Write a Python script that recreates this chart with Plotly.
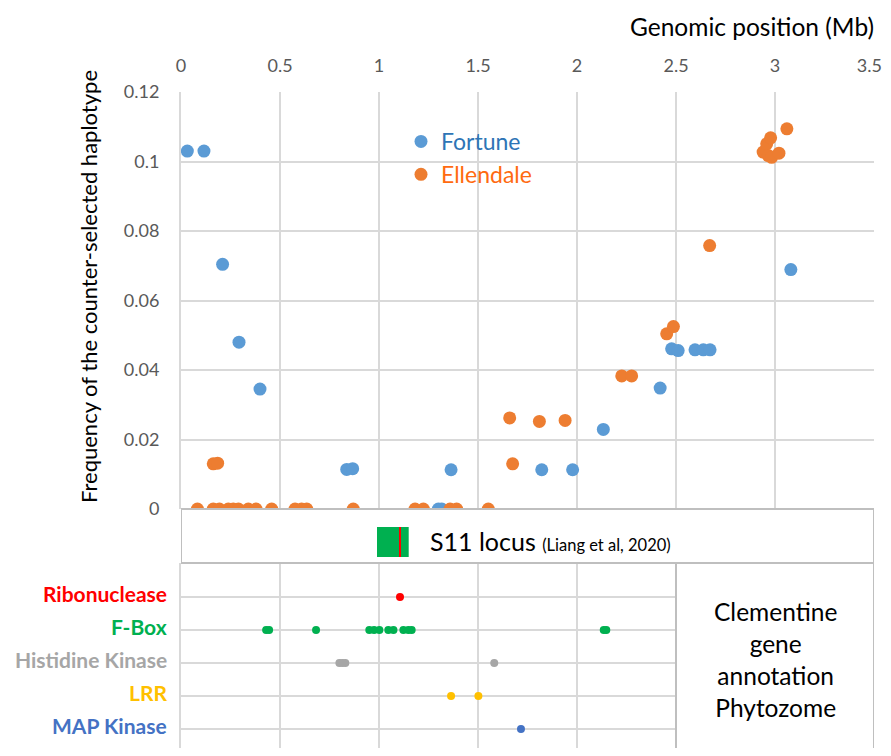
import plotly.graph_objects as go

# the page body has an 8px margin, so the figure is drawn 8px right and down
OFF = 8
W, H = 891 - 2 * OFF, 756 - 2 * OFF

# ---------------- data ----------------
fortune_x = [0.032, 0.116, 0.21, 0.293, 0.399, 0.837, 0.867, 1.30, 1.317, 1.364,
             1.822, 1.978, 2.133, 2.42, 2.478, 2.511, 2.596, 2.638, 2.672, 3.08]
fortune_y = [0.103, 0.103, 0.0704, 0.048, 0.0345, 0.0114, 0.0116, 0.0, 0.0, 0.0113,
             0.0113, 0.0113, 0.0229, 0.0348, 0.0461, 0.0456, 0.0458, 0.0458, 0.0458, 0.0689]

ellendale_x = [0.083, 0.163, 0.194, 0.239, 0.264, 0.290, 0.340, 0.379, 0.458, 0.576,
               0.609, 0.635, 0.870, 1.182, 1.224, 1.359, 1.392, 1.552,
               0.163, 0.185, 1.66, 1.675, 1.81, 1.94, 2.226, 2.276, 2.453, 2.487, 2.67,
               2.94, 2.958, 2.978, 2.966, 2.983, 3.02, 3.06]
ellendale_y = [0.0] * 18 + [0.013, 0.0132, 0.0262, 0.013, 0.0252, 0.0255, 0.0383, 0.0383,
                            0.0504, 0.0525, 0.0758,
                            0.1027, 0.1051, 0.1068, 0.1017, 0.1012, 0.1024, 0.1094]

# gene annotation (Mb)
ribonuclease_x = [1.106]
fbox_x = [0.43, 0.445, 0.682, 0.951, 0.975, 1.002, 1.047, 1.073, 1.123, 1.148, 1.165, 2.135, 2.148]
histidine_x = [0.80, 0.815, 0.83, 1.582]
lrr_x = [1.364, 1.502]
mapk_x = [1.717]

gene_rows = ["Ribonuclease", "F-Box", "Histidine Kinase", "LRR", "MAP Kinase"]
gene_row_vals = [5, 4, 3, 2, 1]
gene_colors = ["#FF0000", "#00B050", "#A6A6A6", "#FFC000", "#4472C4"]
gene_positions = [ribonuclease_x, fbox_x, histidine_x, lrr_x, mapk_x]

s11_start, s11_end = 0.99, 1.15

x_ticks = [0, 0.5, 1, 1.5, 2, 2.5, 3, 3.5]
x_tick_labels = ["0", "0.5", "1", "1.5", "2", "2.5", "3", "3.5"]
y_ticks = [0, 0.02, 0.04, 0.06, 0.08, 0.1, 0.12]
y_tick_labels = ["0", "0.02", "0.04", "0.06", "0.08", "0.1", "0.12"]

FONT = "Lato"
GRID = "#D9D9D9"
AX = "#BFBFBF"
TICKC = "#595959"


def px(xp):
    return (xp - OFF) / W


def py(yp):
    return 1 - (yp - OFF) / H


# last top label sits at the page edge: pad it so it stays fully visible
x_tick_text = x_tick_labels[:-1] + [x_tick_labels[-1] + "\u00a0\u00a0"]

fig = go.Figure()

fig.add_trace(go.Scatter(
    x=fortune_x, y=fortune_y, mode="markers", xaxis="x", yaxis="y",
    name='<span style="color:#2E75B6">Fortune</span>', legendgroup="f",
    marker=dict(size=13, color="#5B9BD5", line=dict(width=0))))
fig.add_trace(go.Scatter(
    x=ellendale_x, y=ellendale_y, mode="markers", xaxis="x", yaxis="y",
    name='<span style="color:#FF6A10">Ellendale</span>', legendgroup="e",
    marker=dict(size=13, color="#ED7D31", line=dict(width=0))))

for name, val, col, xs in zip(gene_rows, gene_row_vals, gene_colors, gene_positions):
    fig.add_trace(go.Scatter(
        x=xs, y=[val] * len(xs), mode="markers", xaxis="x2", yaxis="y2",
        showlegend=False, name=name,
        marker=dict(size=8, color=col, line=dict(width=0))))

xdom = [px(181), px(874)]
bottom_px = OFF + H  # lowest drawable screen row

fig.update_layout(
    template="none",
    width=W, height=H,
    margin=dict(l=0, r=0, t=0, b=0, pad=0, autoexpand=False),
    paper_bgcolor="white", plot_bgcolor="white",
    font=dict(family=FONT, color="black"),
    showlegend=True,
    legend=dict(x=px(401), y=py(120), xanchor="left", yanchor="top",
                font=dict(size=23, family=FONT), bgcolor="rgba(0,0,0,0)",
                tracegroupgap=0, itemwidth=30, borderwidth=0),
    xaxis=dict(domain=xdom, range=[0, 3.5], side="top",
               tickvals=x_ticks, ticktext=x_tick_text, ticklabeloverflow="allow",
               showgrid=True, gridcolor=GRID, gridwidth=2, zeroline=False,
               showline=False, ticks="outside", ticklen=12, tickcolor="rgba(0,0,0,0)",
               tickfont=dict(size=18, color=TICKC, family=FONT), anchor="y",
               automargin=False),
    yaxis=dict(domain=[py(509), py(92)], range=[0, 0.12],
               tickvals=y_ticks, ticktext=y_tick_labels,
               showgrid=True, gridcolor=GRID, gridwidth=2,
               zeroline=True, zerolinecolor=AX, zerolinewidth=2,
               showline=True, linecolor=GRID, linewidth=2,
               ticks="outside", ticklen=16, tickcolor="rgba(0,0,0,0)",
               tickfont=dict(size=18, color=TICKC, family=FONT), anchor="x",
               automargin=False),
    xaxis2=dict(domain=xdom, range=[0, 3.5], dtick=0.5, showticklabels=False,
                showgrid=True, gridcolor=GRID, gridwidth=2, zeroline=False,
                showline=False, anchor="y2", ticks="", automargin=False),
    yaxis2=dict(domain=[0, py(563)],
                range=[1 - (bottom_px - 729) / 33, 1 + (729 - 563) / 33],
                tickvals=gene_row_vals, showticklabels=False, ticks="",
                showgrid=True, gridcolor=GRID, gridwidth=2, zeroline=False,
                showline=True, linecolor=GRID, linewidth=2, anchor="x2",
                automargin=False),
)

shapes = [
    # S11 locus box
    dict(type="rect", xref="x", yref="paper", x0=0, x1=3.5, y0=py(563), y1=py(509),
         line=dict(color=AX, width=2), fillcolor="rgba(0,0,0,0)", layer="above"),
    # S11 locus extent
    dict(type="rect", xref="x", yref="paper", x0=s11_start, x1=s11_end,
         y0=py(557), y1=py(527), line=dict(width=0), fillcolor="#00B050", layer="above"),
    # ribonuclease position inside locus
    dict(type="line", xref="x", yref="paper", x0=ribonuclease_x[0], x1=ribonuclease_x[0],
         y0=py(557), y1=py(527), line=dict(color="#FF0000", width=2), layer="above"),
    # annotation-source box
    dict(type="rect", xref="x2", yref="paper", x0=2.5, x1=3.5, y0=-0.02, y1=py(563),
         line=dict(color=AX, width=2), fillcolor="white", layer="above"),
]
fig.update_layout(shapes=shapes)

ann = [
    dict(text="Genomic position (Mb)", xref="paper", yref="paper", x=px(876), y=py(27),
         xanchor="right", yanchor="middle", showarrow=False,
         font=dict(size=24.5, color="black", family=FONT)),
    dict(text="Frequency of the counter-selected haplotype", xref="paper", yref="paper",
         x=px(88), y=py(287), textangle=-90, xanchor="center", yanchor="middle",
         showarrow=False, font=dict(size=22, color="black", family=FONT)),
    dict(text='S11 locus <span style="font-size:16.5px">(Liang et al, 2020)</span>',
         xref="paper", yref="paper", x=px(428), y=py(541), xanchor="left", yanchor="middle",
         showarrow=False, font=dict(size=25, color="black", family=FONT)),
    dict(text="Clementine<br>gene<br>annotation<br>Phytozome", xref="x2", yref="paper",
         x=3.0, y=py(659), xanchor="center", yanchor="middle", showarrow=False,
         align="center", font=dict(size=24.5, color="black", family=FONT)),
]
for name, val, col in zip(gene_rows, gene_row_vals, gene_colors):
    ann.append(dict(text="<b>%s</b>" % name, xref="paper", yref="y2", x=px(169), y=val,
                    yshift=4, xanchor="right", yanchor="middle", showarrow=False,
                    font=dict(size=21, color=col, family=FONT)))
fig.update_layout(annotations=ann)

fig.write_html("out.html")
